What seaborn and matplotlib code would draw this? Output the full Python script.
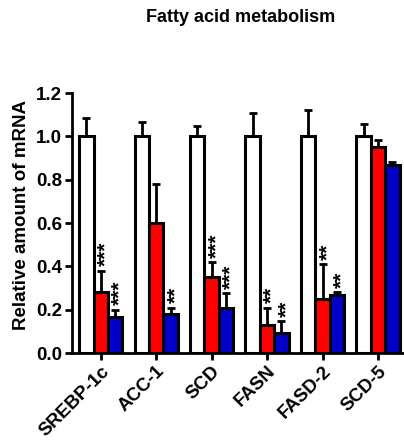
import numpy as np
import pandas as pd
import seaborn as sns
import matplotlib.pyplot as plt
from matplotlib.transforms import offset_copy

# data
genes = ["SREBP-1c", "ACC-1", "SCD", "FASN", "FASD-2", "SCD-5"]
groups = ["Control", "Treatment A", "Treatment B"]
control = [1.0, 1.0, 1.0, 1.0, 1.0, 1.0]
treat_a = [0.28, 0.60, 0.35, 0.13, 0.25, 0.95]
treat_b = [0.165, 0.18, 0.21, 0.093, 0.27, 0.87]
control_err = [0.084, 0.066, 0.05, 0.107, 0.12, 0.055]
treat_a_err = [0.10, 0.18, 0.07, 0.08, 0.16, 0.035]
treat_b_err = [0.035, 0.03, 0.065, 0.054, 0.01, 0.01]
stars_a = ["***", "", "***", "**", "**", ""]
stars_b = ["***", "**", "***", "**", "**", ""]

colors = ["#FFFFFF", "#FF0000", "#0000C8"]

df = pd.DataFrame({
    "gene": genes * 3,
    "group": np.repeat(groups, len(genes)),
    "value": control + treat_a + treat_b,
    "err": control_err + treat_a_err + treat_b_err,
    "star": [""] * len(genes) + stars_a + stars_b,
})

sns.set_style("ticks")
plt.rcParams["font.family"] = ["Liberation Sans", "DejaVu Sans"]
plt.rcParams["font.weight"] = "bold"
plt.rcParams["text.color"] = "black"
plt.rcParams["axes.labelcolor"] = "black"

fig = plt.figure(figsize=(4.04, 4.43), dpi=100)
ax = fig.add_axes([0.178, 0.203, 0.822, 0.587])

sns.barplot(data=df, x="gene", y="value", hue="group", palette=colors,
            saturation=1, errorbar=None, width=0.78, edgecolor="black",
            linewidth=2.2, legend=False, ax=ax)

# asterisks sit high in the glyph box, shift them back onto the bar centre
star_tr = offset_copy(ax.transData, fig=fig, x=3.5, y=0, units="points")

# error bars (upper only) and significance stars
bars = [p for p in ax.patches if p.get_height() > 0]
for bar, (_, row) in zip(bars, df.iterrows()):
    xc = bar.get_x() + bar.get_width() / 2
    top = bar.get_height()
    ax.errorbar(xc, top, yerr=[[0], [row["err"]]], fmt="none", ecolor="black",
                elinewidth=2, capsize=3, capthick=2, zorder=1)
    if row["star"]:
        ax.text(xc, top + row["err"] + 0.02, row["star"], transform=star_tr,
                rotation=90, ha="center", va="bottom", fontsize=15,
                fontweight="bold", color="black")

ax.set_ylim(0, 1.2)
ax.set_yticks(np.arange(0, 1.21, 0.2))
ax.set_yticklabels([f"{v:.1f}" for v in np.arange(0, 1.21, 0.2)], fontsize=13.5, fontweight="bold")
ax.set_xlim(-0.52, 5.47)
ax.set_xticks(range(len(genes)))
ax.set_xticklabels(genes, rotation=45, ha="right", rotation_mode="anchor",
                   fontsize=13.5, fontweight="bold")
ax.set_xlabel("")
ax.set_ylabel("Relative amount of mRNA", fontsize=13.5, fontweight="bold", color="black")
ax.yaxis.set_label_coords(-0.127, 0.53)
ax.tick_params(width=2, length=5, colors="black", labelcolor="black", pad=2)
for s in ["left", "bottom"]:
    ax.spines[s].set_linewidth(2)
    ax.spines[s].set_color("black")
sns.despine(ax=ax)

fig.text(0.595, 0.96, "Fatty acid metabolism", ha="center", va="center",
         fontsize=13, fontweight="bold", color="black")

fig.savefig("out.png", dpi=100)
